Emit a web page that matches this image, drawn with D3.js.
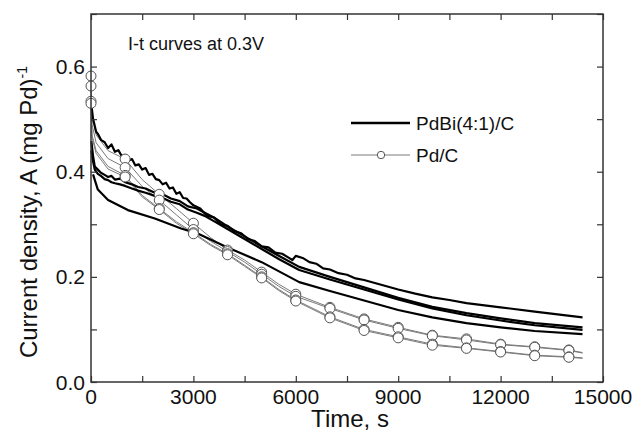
<!DOCTYPE html>
<html>
<head>
<meta charset="utf-8">
<script src="https://cdn.jsdelivr.net/npm/d3@7"></script>
<style>
  body { margin: 0; background: #fff; }
  text { font-family: Arial, "Liberation Sans", sans-serif; }
</style>
</head>
<body>
<svg id="chart"></svg>
<script>
var W = 633, H = 438;
var m = {left: 91, right: 30, top: 14, bottom: 56};

// PdBi(4:1)/C runs (thick black)
var biTimeA = [20, 60, 100, 150, 200, 300, 400, 500, 600, 700, 800, 900, 1000, 1100, 1200, 1300, 1400, 1500, 1600, 1700,
    1800, 1900, 2000, 2100, 2200, 2300, 2400, 2500, 2600, 2700, 2800, 2900, 3000, 3200, 3400, 3600, 3800, 4000, 4200, 4400,
    4600, 4800, 5000, 5200, 5400, 5600, 5800, 5900, 6000, 6200, 6400, 6600, 6800, 7000, 7250, 7500, 7750, 8000, 8500, 9000,
    9500, 10000, 10500, 11000, 12000, 13000, 14400];
var biA = [0.523, 0.50, 0.49, 0.476, 0.472, 0.46, 0.456, 0.445, 0.452, 0.438, 0.441, 0.43, 0.432, 0.421, 0.424, 0.412, 0.414, 0.404, 0.407, 0.394,
    0.396, 0.386, 0.384, 0.376, 0.379, 0.368, 0.37, 0.358, 0.361, 0.35, 0.349, 0.342, 0.336, 0.33, 0.316, 0.313, 0.3, 0.297, 0.287, 0.283,
    0.272, 0.268, 0.258, 0.256, 0.246, 0.244, 0.236, 0.232, 0.24, 0.236, 0.228, 0.225, 0.216, 0.214, 0.207, 0.204, 0.197, 0.194, 0.185, 0.176,
    0.168, 0.161, 0.156, 0.15, 0.142, 0.134, 0.123];
var biTimeB = [10, 60, 110, 200, 290, 400, 500, 600, 700, 850, 1000, 1200, 1380, 1600, 1870, 2100, 2340, 2600, 2840, 3100,
    3330, 3600, 4000, 4500, 5000, 5500, 6100, 7000, 8000, 9000, 10000, 11000, 12000, 13000, 14400];
var biB = [0.458, 0.43, 0.41, 0.404, 0.398, 0.394, 0.39, 0.392, 0.385, 0.387, 0.38, 0.376, 0.371, 0.368, 0.36, 0.357, 0.349, 0.344, 0.334, 0.33,
    0.322, 0.313, 0.296, 0.277, 0.258, 0.24, 0.219, 0.2, 0.18, 0.16, 0.143, 0.131, 0.121, 0.112, 0.104];
var biC = [0.44, 0.42, 0.404, 0.396, 0.392, 0.386, 0.384, 0.38, 0.378, 0.376, 0.373, 0.368, 0.364, 0.36, 0.354, 0.35, 0.343, 0.338, 0.328, 0.322,
    0.316, 0.306, 0.291, 0.272, 0.253, 0.234, 0.213, 0.195, 0.176, 0.157, 0.14, 0.127, 0.117, 0.108, 0.099];
var biTimeD = [60, 200, 500, 1080, 1870, 2640, 3140, 4000, 5000, 6100, 7000, 8000, 9000, 10000, 11000, 12000, 13000, 14400];
var biD = [0.395, 0.366, 0.346, 0.327, 0.311, 0.292, 0.282, 0.256, 0.228, 0.19, 0.173, 0.155, 0.137, 0.123, 0.112, 0.104, 0.097, 0.091];

// Pd/C runs (thin grey with circles every 1000 s)
var pdTime = [0, 30, 150, 500, 1000, 1500, 2000, 2500, 3000, 3500, 4000, 4500, 5000, 5500, 6000, 7000, 8000, 9000, 10000, 11000, 12000, 13000, 14000, 14400];
var pd1 = [0.582, 0.51, 0.47, 0.44, 0.424, 0.385, 0.357, 0.33, 0.302, 0.275, 0.251, 0.232, 0.209, 0.186, 0.167, 0.142, 0.12, 0.104, 0.089, 0.082, 0.072, 0.067, 0.061, 0.056];
var pd2 = [0.563, 0.49, 0.455, 0.425, 0.408, 0.372, 0.346, 0.318, 0.29, 0.268, 0.248, 0.228, 0.205, 0.182, 0.163, 0.14, 0.118, 0.102, 0.088, 0.08, 0.071, 0.066, 0.06, 0.055];
var pd3 = [0.534, 0.47, 0.44, 0.41, 0.393, 0.355, 0.33, 0.305, 0.284, 0.262, 0.244, 0.222, 0.2, 0.176, 0.156, 0.124, 0.1, 0.086, 0.072, 0.065, 0.058, 0.051, 0.048, 0.046];
var pd4 = [0.53, 0.465, 0.435, 0.405, 0.39, 0.352, 0.328, 0.302, 0.282, 0.26, 0.242, 0.22, 0.198, 0.174, 0.154, 0.122, 0.098, 0.084, 0.07, 0.064, 0.057, 0.05, 0.047, 0.045];

var xTicks = [0, 3000, 6000, 9000, 12000, 15000];
var yTicks = [0.0, 0.2, 0.4, 0.6];
var legendNames = ["PdBi(4:1)/C", "Pd/C"];

var svg = d3.select("#chart").attr("width", W).attr("height", H);

var x = d3.scaleLinear().domain([0, 15000]).range([m.left, W - m.right]);
var y = d3.scaleLinear().domain([0, 0.7]).range([H - m.bottom, m.top]);

function pairs(ts, vs) {
    return ts.map(function (t, i) { return {t: t, v: vs[i]}; });
}

var line = d3.line()
    .x(function (d) { return x(d.t); })
    .y(function (d) { return y(d.v); });

var blackRuns = [pairs(biTimeA, biA), pairs(biTimeB, biB), pairs(biTimeB, biC), pairs(biTimeD, biD)];
var greyRuns = [pd1, pd2, pd3, pd4].map(function (v) { return pairs(pdTime, v); });

// grey runs first, black on top, circles last
svg.append("g").selectAll("path")
    .data(greyRuns)
    .join("path")
    .attr("d", line)
    .attr("fill", "none")
    .attr("stroke", "#7a7a7a")
    .attr("stroke-width", 1);

svg.append("g").selectAll("path")
    .data(blackRuns)
    .join("path")
    .attr("d", line)
    .attr("fill", "none")
    .attr("stroke", "#000")
    .attr("stroke-width", 2.2)
    .attr("stroke-linejoin", "round");

greyRuns.forEach(function (run) {
    svg.append("g").selectAll("circle")
        .data(run.filter(function (d) { return d.t % 1000 === 0; }))
        .join("circle")
        .attr("cx", function (d) { return x(d.t); })
        .attr("cy", function (d) { return y(d.v); })
        .attr("r", 5)
        .attr("fill", "#fff")
        .attr("stroke", "#555")
        .attr("stroke-width", 1);
});

// frame and ticks (all ticks inward)
var minorX = d3.range(0, 15001, 1500);
var minorY = d3.range(0, 0.701, 0.1);

svg.append("rect")
    .attr("x", x(0)).attr("y", y(0.7))
    .attr("width", x(15000) - x(0)).attr("height", y(0) - y(0.7))
    .attr("fill", "none").attr("stroke", "#333").attr("stroke-width", 1.5);

var xAxisB = d3.axisBottom(x).tickValues(minorX).tickSizeInner(-6).tickSizeOuter(0).tickFormat("");
var xAxisT = d3.axisTop(x).tickValues(minorX).tickSizeInner(-6).tickSizeOuter(0).tickFormat("");
var yAxisL = d3.axisLeft(y).tickValues(minorY).tickSizeInner(-6).tickSizeOuter(0).tickFormat("");
var yAxisR = d3.axisRight(y).tickValues(minorY).tickSizeInner(-6).tickSizeOuter(0).tickFormat("");

[[xAxisB, "translate(0," + y(0) + ")"], [xAxisT, "translate(0," + y(0.7) + ")"],
 [yAxisL, "translate(" + x(0) + ",0)"], [yAxisR, "translate(" + x(15000) + ",0)"]].forEach(function (a) {
    var g = svg.append("g").attr("transform", a[1]).call(a[0]);
    g.select(".domain").remove();
    g.selectAll("line").attr("stroke", "#333").attr("stroke-width", 1.2);
});

// tick labels
svg.append("g").selectAll("text")
    .data(xTicks)
    .join("text")
    .attr("x", function (d) { return x(d); })
    .attr("y", 404)
    .attr("text-anchor", "middle")
    .attr("font-size", 21)
    .attr("fill", "#111")
    .text(function (d) { return d; });

svg.append("g").selectAll("text")
    .data(yTicks)
    .join("text")
    .attr("x", x(0) - 6)
    .attr("y", function (d) { return y(d); })
    .attr("dy", "0.36em")
    .attr("text-anchor", "end")
    .attr("font-size", 21)
    .attr("fill", "#111")
    .text(function (d) { return d.toFixed(1); });

// axis titles
svg.append("text")
    .attr("x", (x(0) + x(15000)) / 2 + 3)
    .attr("y", 427)
    .attr("text-anchor", "middle")
    .attr("font-size", 24)
    .attr("fill", "#111")
    .text("Time, s");

var yl = svg.append("text")
    .attr("transform", "translate(37,212) rotate(-90)")
    .attr("text-anchor", "middle")
    .attr("font-size", 24)
    .attr("fill", "#111");
yl.append("tspan").text("Current density, A (mg Pd)");
yl.append("tspan").attr("font-size", 14).attr("dy", -10).text("-1");

// annotation
svg.append("text")
    .attr("x", 128).attr("y", 50)
    .attr("font-size", 18)
    .attr("fill", "#111")
    .text("I-t curves at 0.3V");

// legend
var lg = svg.append("g");
lg.append("line").attr("x1", 351).attr("x2", 410).attr("y1", 123).attr("y2", 123)
    .attr("stroke", "#000").attr("stroke-width", 2.5);
lg.append("line").attr("x1", 351).attr("x2", 410).attr("y1", 155).attr("y2", 155)
    .attr("stroke", "#7a7a7a").attr("stroke-width", 1);
lg.append("circle").attr("cx", 381).attr("cy", 155).attr("r", 3.7)
    .attr("fill", "#fff").attr("stroke", "#555");
lg.selectAll("text")
    .data(legendNames)
    .join("text")
    .attr("x", 416)
    .attr("y", function (d, i) { return 123 + i * 32; })
    .attr("dy", "0.36em")
    .attr("font-size", 19)
    .attr("fill", "#111")
    .text(function (d) { return d; });
</script>
</body>
</html>
